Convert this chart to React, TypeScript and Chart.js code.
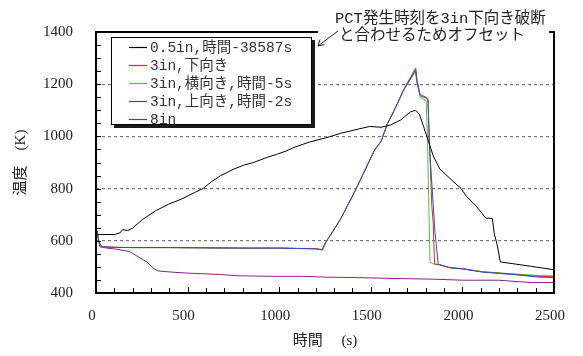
import React, { useEffect, useRef } from "react";
import { Chart, registerables } from "chart.js";

Chart.register(...registerables);

// ---- data (time in s, temperature in K) ----
const seriesLabels = [
  "0.5in,時間-38587s",
  "3in,下向き",
  "3in,横向き,時間-5s",
  "3in,上向き,時間-2s",
  "8in",
];
const seriesColors = ["#000000", "#ff1a1a", "#44cc33", "#2255cc", "#882288"];

const t05 = [0, 20, 100, 130, 146, 173, 200, 253, 325, 396, 467, 539, 583, 628, 681, 753, 807, 860, 931, 985, 1038, 1074, 1163, 1253, 1342, 1431, 1494, 1556, 1609, 1663, 1716, 1745, 1765, 1788, 1815, 1841, 1877, 1949, 1993, 2020, 2073, 2127, 2163, 2175, 2189, 2207, 2288, 2377, 2500];
const T05 = [625, 624, 624, 630, 643, 639, 649, 681, 715, 740, 760, 785, 800, 825, 850, 875, 890, 900, 919, 931, 944, 956, 978, 994, 1013, 1028, 1038, 1035, 1044, 1063, 1094, 1100, 1085, 1038, 981, 925, 875, 828, 800, 772, 735, 687, 686, 624, 587, 519, 511, 502, 489];

const tDown = [0, 5, 15, 25, 40, 100, 200, 400, 600, 800, 1000, 1200, 1235, 1253, 1333, 1413, 1520, 1556, 1591, 1627, 1681, 1745, 1752, 1770, 1802, 1812, 1833, 1841, 1848, 1877, 1931, 2002, 2109, 2288, 2413, 2500];
const TDown = [625, 637, 600, 582, 577, 575, 574, 574, 573, 572, 572, 570, 566, 593, 681, 790, 948, 981, 1050, 1100, 1182, 1262, 1215, 1160, 1150, 1140, 737, 662, 511, 508, 497, 493, 481, 471, 464, 462];

const tSide = [0, 5, 15, 25, 40, 100, 200, 400, 600, 800, 1000, 1200, 1235, 1253, 1333, 1413, 1520, 1556, 1591, 1627, 1681, 1743, 1752, 1770, 1802, 1809, 1823, 1841, 1877, 1931, 2002, 2109, 2288, 2413, 2500];
const TSide = [625, 635, 598, 581, 577, 575, 574, 574, 573, 572, 572, 569, 565, 592, 680, 788, 946, 980, 1048, 1098, 1178, 1248, 1205, 1150, 1138, 1000, 518, 511, 508, 497, 493, 482, 473, 467, 466];

const tUp = [0, 5, 15, 25, 40, 100, 200, 400, 600, 800, 1000, 1200, 1235, 1253, 1333, 1413, 1520, 1556, 1591, 1627, 1681, 1745, 1752, 1770, 1802, 1812, 1820, 1850, 1868, 1877, 1931, 2002, 2109, 2288, 2413, 2500];
const TUp = [625, 636, 599, 581, 577, 575, 574, 574, 573, 572, 572, 569, 565, 593, 681, 789, 947, 981, 1049, 1099, 1180, 1255, 1210, 1155, 1148, 1140, 963, 637, 511, 508, 497, 492, 480, 470, 461, 459];

const t8 = [0, 5, 15, 21, 60, 111, 182, 235, 280, 316, 343, 414, 503, 681, 771, 949, 1128, 1242, 1413, 1681, 1841, 2002, 2198, 2377, 2500];
const T8 = [620, 640, 600, 577, 572, 568, 559, 537, 518, 493, 484, 480, 476, 471, 466, 464, 464, 461, 459, 455, 453, 449, 449, 440, 440];

const xTicks = [0, 500, 1000, 1500, 2000, 2500];
const yTicks = [400, 600, 800, 1000, 1200, 1400];

const noteLine1 = "PCT発生時刻を3in下向き破断";
const noteLine2 = "と合わせるためオフセット";

const toPoints = (xs: number[], ys: number[]) => xs.map((x, i) => ({ x, y: ys[i] }));

const MONO = "'Liberation Mono', 'Noto Sans CJK JP'";
const SERIF = "'Liberation Serif', 'Noto Sans CJK JP'";

const framePlugin = {
  id: "frameTicks",
  afterDatasetsDraw(chart: any) {
    const { ctx, chartArea: a, scales } = chart;
    const xs = scales.x;
    const ys = scales.y;
    ctx.save();
    ctx.strokeStyle = "#000";
    ctx.lineWidth = 1;
    ctx.beginPath();
    for (let v = 100; v < 2500; v += 100) {
      const px = Math.round(xs.getPixelForValue(v)) + 0.5;
      const len = v % 500 === 0 ? 6 : 5;
      ctx.moveTo(px, a.bottom);
      ctx.lineTo(px, a.bottom - len);
    }
    for (let v = 450; v < 1400; v += 50) {
      const py = Math.round(ys.getPixelForValue(v)) + 0.5;
      ctx.moveTo(a.left, py);
      ctx.lineTo(a.left + 5, py);
    }
    ctx.stroke();
    ctx.lineWidth = 2;
    ctx.strokeRect(a.left, a.top, a.right - a.left, a.bottom - a.top);
    ctx.restore();
  },
};

const legendPlugin = {
  id: "boxLegend",
  afterDraw(chart: any) {
    const { ctx } = chart;
    const bx = 111, by = 37, bw = 201, bh = 88;
    ctx.save();
    ctx.fillStyle = "#1a1a1a";
    ctx.fillRect(bx + 3, by + 3, bw, bh);
    ctx.fillStyle = "#fff";
    ctx.fillRect(bx, by, bw, bh);
    ctx.strokeStyle = "#000";
    ctx.lineWidth = 1;
    ctx.strokeRect(bx + 0.5, by + 0.5, bw - 1, bh - 1);
    ctx.font = `14.5px ${MONO}`;
    ctx.textBaseline = "middle";
    ctx.textAlign = "left";
    chart.data.datasets.forEach((ds: any, i: number) => {
      const y = by + 10 + i * 18;
      ctx.strokeStyle = ds.borderColor;
      ctx.lineWidth = 1.2;
      ctx.beginPath();
      ctx.moveTo(129, y + 0.5);
      ctx.lineTo(147, y + 0.5);
      ctx.stroke();
      ctx.fillStyle = "#333";
      ctx.fillText(ds.label, 150, y + 1);
    });
    ctx.restore();
  },
};

const notePlugin = {
  id: "note",
  afterDraw(chart: any) {
    const { ctx } = chart;
    ctx.save();
    ctx.fillStyle = "#fff";
    ctx.fillRect(318, 0, 231, 44);
    ctx.fillStyle = "#222";
    ctx.font = `15.5px ${MONO}`;
    ctx.textBaseline = "middle";
    ctx.textAlign = "left";
    ctx.fillText(noteLine1, 335, 19);
    ctx.fillText(noteLine2, 339, 36);
    ctx.strokeStyle = "#222";
    ctx.lineWidth = 1;
    ctx.beginPath();
    ctx.moveTo(338, 31);
    ctx.lineTo(318, 46);
    ctx.moveTo(318, 46);
    ctx.lineTo(320, 39.5);
    ctx.moveTo(318, 46);
    ctx.lineTo(324.5, 44.5);
    ctx.stroke();
    ctx.restore();
  },
};

export default function App() {
  const ref = useRef<HTMLCanvasElement | null>(null);
  useEffect(() => {
    if (!ref.current) return;
    const xsArr = [t05, tDown, tSide, tUp, t8];
    const ysArr = [T05, TDown, TSide, TUp, T8];
    const orders = [0, 2, 3, 1, 4];
    const chart = new Chart(ref.current, {
      type: "line",
      data: {
        datasets: seriesLabels.map((label, i) => ({
          label,
          data: toPoints(xsArr[i], ysArr[i]),
          borderColor: seriesColors[i],
          backgroundColor: seriesColors[i],
          borderWidth: 1,
          pointRadius: 0,
          tension: 0,
          fill: false,
          order: orders[i],
        })),
      },
      options: {
        responsive: false,
        animation: false,
        devicePixelRatio: 1,
        layout: { padding: { top: 27, right: 20, left: 0, bottom: 0 } },
        plugins: {
          legend: { display: false },
          tooltip: { enabled: false },
          title: { display: false },
        },
        scales: {
          x: {
            type: "linear",
            min: 0,
            max: 2500,
            afterFit: (s: any) => {
              s.height = 63;
            },
            afterBuildTicks: (s: any) => {
              s.ticks = xTicks.map((v) => ({ value: v }));
            },
            ticks: {
              font: { family: SERIF, size: 15 },
              color: "#222",
              padding: 14,
              labelOffset: -4,
              maxRotation: 0,
              callback: (v: any) => String(v),
            },
            grid: { display: false, drawTicks: false },
            border: { display: false },
            title: {
              display: true,
              text: "時間　 (s)",
              font: { family: SERIF, size: 15 },
              color: "#222",
              padding: { top: 0, bottom: 6 },
            },
          },
          y: {
            type: "linear",
            min: 400,
            max: 1400,
            afterFit: (s: any) => {
              s.width = 96;
            },
            afterBuildTicks: (s: any) => {
              s.ticks = yTicks.map((v) => ({ value: v }));
            },
            ticks: {
              font: { family: SERIF, size: 15 },
              color: "#222",
              padding: 23,
              callback: (v: any) => String(v),
            },
            grid: {
              drawTicks: false,
              lineWidth: 1.2,
              color: (c: any) =>
                c.tick && (c.tick.value === 400 || c.tick.value === 1400)
                  ? "rgba(0,0,0,0)"
                  : "#777",
            },
            border: { display: false, dash: [3, 3] },
            title: {
              display: true,
              text: "温度　(K)",
              font: { family: SERIF, size: 15 },
              color: "#222",
              padding: { top: 12, bottom: 0 },
            },
          },
        },
      },
      plugins: [framePlugin, legendPlugin, notePlugin],
    });
    return () => chart.destroy();
  }, []);
  return (
    <div style={{ position: "absolute", left: 0, top: 0, width: 583, height: 356, background: "#fff" }}>
      <canvas ref={ref} width={583} height={356} />
    </div>
  );
}
